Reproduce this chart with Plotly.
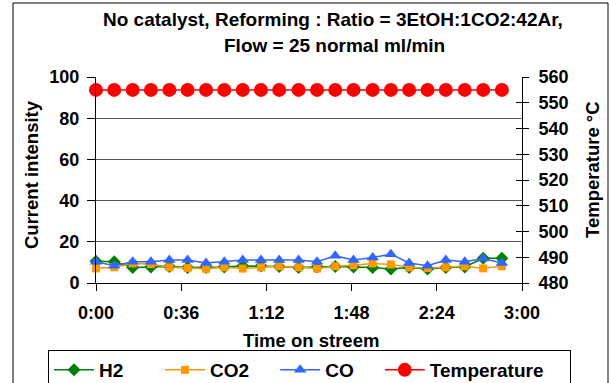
import plotly.graph_objects as go

time_min = [0, 7.7, 15.5, 23.2, 31.0, 38.7, 46.5, 54.2, 62.0, 69.7, 77.4, 85.6,
            93.4, 101.1, 108.8, 116.9, 124.6, 132.3, 140.1, 147.8, 155.8, 163.6, 171.5]
h2 = [10.5, 10.3, 7.5, 7.8, 8.0, 7.5, 7.5, 7.8, 8.2, 8.2, 8.0, 7.5,
      7.8, 8.0, 7.8, 7.5, 6.8, 7.5, 6.8, 7.5, 7.8, 12.0, 12.0]
co2 = [7.1, 7.6, 9.5, 9.2, 7.6, 7.3, 6.9, 7.6, 7.0, 7.6, 8.1, 7.6,
       7.0, 8.1, 8.6, 9.5, 9.0, 7.6, 7.3, 7.6, 8.1, 7.1, 8.1]
co = [10.3, 8.4, 10.3, 10.3, 11.2, 11.2, 9.7, 10.3, 11.2, 11.2, 11.2, 11.2,
      10.3, 13.2, 11.2, 12.4, 14.0, 9.7, 8.4, 11.2, 10.3, 11.9, 9.7]
temperature = [555] * 23

x_tickvals = [0, 36, 72, 108, 144, 180]
x_ticktext = ["0:00", "0:36", "1:12", "1:48", "2:24", "3:00"]

FONT = "Liberation Sans, Arial, sans-serif"
def bold(size):
    return dict(family=FONT, size=size, color="black", weight="bold")

TICK = bold(18)
AX = bold(18.5)
TITLE = bold(19)
LEG = bold(19)

NB = "\u00a0"

# plot area in pixels
L, R, T, B = 96, 522, 77, 283
W, H = 610, 383
def px(x):
    return (x - L) / (R - L)
def py(y):
    return (B - y) / (B - T)

fig = go.Figure()
fig.add_trace(go.Scatter(x=time_min, y=h2, name="H2" + NB * 6, mode="lines+markers",
                         line=dict(color="#008000", width=1.5),
                         marker=dict(symbol="diamond", size=10, color="#008000"),
                         cliponaxis=False))
fig.add_trace(go.Scatter(x=time_min, y=co2, name="CO2" + NB * 4, mode="lines+markers",
                         line=dict(color="#FF9900", width=1.5),
                         marker=dict(symbol="square", size=8, color="#FF9900"),
                         cliponaxis=False))
fig.add_trace(go.Scatter(x=time_min, y=co, name="CO" + NB * 4, mode="lines+markers",
                         line=dict(color="#3366FF", width=1.5),
                         marker=dict(symbol="triangle-up", size=11, color="#3366FF"),
                         cliponaxis=False))
fig.add_trace(go.Scatter(x=time_min, y=temperature, name="Temperature" + NB * 4,
                         mode="lines+markers", yaxis="y2",
                         line=dict(color="#FF0000", width=1.5),
                         marker=dict(symbol="circle", size=14, color="#FF0000"),
                         cliponaxis=False))
fig.add_trace(go.Scatter(x=[None], y=[None], yaxis="y3", showlegend=False,
                         hoverinfo="skip"))

fig.update_layout(
    width=W, height=H,
    margin=dict(l=L, r=W - R, t=T, b=H - B, autoexpand=False),
    paper_bgcolor="white", plot_bgcolor="white",
    font=TICK,
    showlegend=True,
    xaxis=dict(range=[0, 180], tickvals=x_tickvals, ticktext=x_ticktext,
               showgrid=False, zeroline=False, showline=True, linecolor="black",
               linewidth=1, ticks="outside", ticklen=7, tickcolor="black",
               tickfont=TICK, automargin=False, ticklabelstandoff=6),
    yaxis=dict(range=[0, 100], dtick=20, showgrid=True, gridcolor="#555555",
               gridwidth=1, zeroline=False, showline=True, linecolor="black",
               ticks="outside", ticklen=8, tickcolor="black", tickfont=TICK,
               automargin=False, ticklabelstandoff=4),
    yaxis2=dict(range=[480, 560], dtick=10, overlaying="y", side="right",
                showgrid=False, zeroline=False, showline=True, linecolor="black",
                ticks="outside", ticklen=6, tickcolor="black", tickfont=TICK,
                automargin=False, ticklabelstandoff=6),
    yaxis3=dict(range=[480, 560], dtick=10, overlaying="y", side="right",
                showgrid=False, zeroline=False, showline=False,
                ticks="inside", ticklen=6, tickcolor="black",
                showticklabels=False, automargin=False),
    legend=dict(orientation="h", x=px(48), xanchor="left", y=py(350), yanchor="top",
                bgcolor="white", bordercolor="black", borderwidth=1,
                font=LEG, itemwidth=40),
    shapes=[dict(type="rect", xref="paper", yref="paper",
                 x0=px(13), x1=px(608), y0=py(420), y1=py(3),
                 line=dict(color="black", width=1), layer="below")],
    annotations=[
        dict(text="No catalyst, Reforming : Ratio = 3EtOH:1CO2:42Ar,",
             xref="paper", yref="paper", x=px(333), y=py(20),
             xanchor="center", yanchor="middle", showarrow=False, font=TITLE),
        dict(text="Flow = 25 normal ml/min",
             xref="paper", yref="paper", x=px(334), y=py(45),
             xanchor="center", yanchor="middle", showarrow=False, font=TITLE),
        dict(text="Current intensity", textangle=-90,
             xref="paper", yref="paper", x=px(31), y=py(175),
             xanchor="center", yanchor="middle", showarrow=False, font=AX),
        dict(text="Temperature °C", textangle=-90,
             xref="paper", yref="paper", x=px(592), y=py(170),
             xanchor="center", yanchor="middle", showarrow=False, font=AX),
        dict(text="Time on streem",
             xref="paper", yref="paper", x=px(311), y=py(340),
             xanchor="center", yanchor="middle", showarrow=False, font=AX),
    ],
)

fig.write_html("out.html", config={"displayModeBar": False},
               post_script="document.body.style.margin='0';document.body.style.padding='0';")
